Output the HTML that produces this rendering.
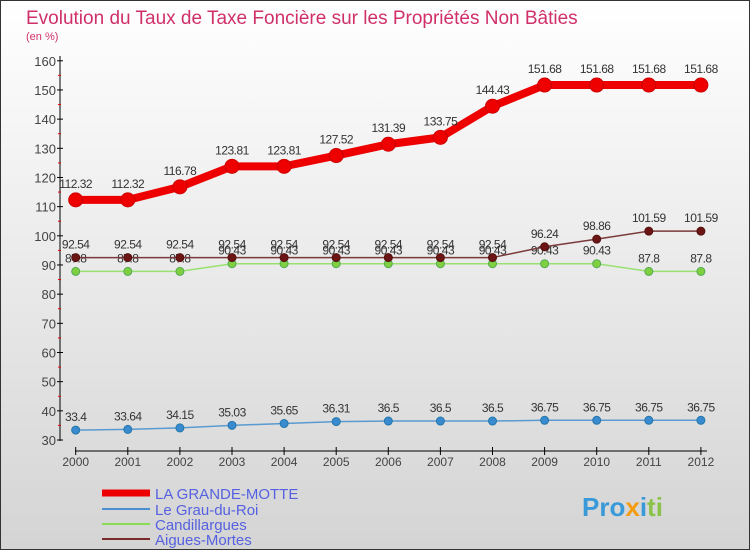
<!DOCTYPE html>
<html><head><meta charset="utf-8"><style>
body{margin:0}
#c{width:750px;height:550px;position:relative;font-family:"Liberation Sans",sans-serif;overflow:hidden}
text{font-family:"Liberation Sans",sans-serif}
</style></head><body>
<div id="c">
<svg id="s" width="750" height="550" xmlns="http://www.w3.org/2000/svg">
<defs><linearGradient id="bg" x1="0" y1="0" x2="0" y2="1"><stop offset="0" stop-color="#ffffff"/><stop offset="1" stop-color="#d4d4d4"/></linearGradient></defs>
<rect x="0.5" y="0.5" width="749" height="549" fill="url(#bg)" stroke="#333"/>
<text x="26" y="24" font-size="19" fill="#d0306a">Evolution du Taux de Taxe Foncière sur les Propriétés Non Bâties</text>
<text x="26" y="40" font-size="11" fill="#d0306a">(en %)</text>
<g id="axes"></g><g id="series"></g>
<g>
<line x1="102" y1="493" x2="150" y2="493" stroke="#e00" stroke-width="7"/><text x="155" y="499" font-size="15" fill="#5561e0">LA GRANDE-MOTTE</text>
<line x1="102" y1="509" x2="150" y2="509" stroke="#4a90d0" stroke-width="2"/><text x="155" y="515" font-size="15" fill="#5561e0">Le Grau-du-Roi</text>
<line x1="102" y1="524" x2="150" y2="524" stroke="#88dd55" stroke-width="2"/><text x="155" y="530" font-size="15" fill="#5561e0">Candillargues</text>
<line x1="102" y1="539" x2="150" y2="539" stroke="#7a2a2a" stroke-width="2"/><text x="155" y="545" font-size="15" fill="#5561e0">Aigues-Mortes</text>
</g>
<text x="582" y="516" font-size="26" font-weight="bold" fill="#3a9ad9">Pro<tspan fill="#f39c12">x</tspan>i<tspan fill="#8bc34a">ti</tspan></text>
</svg></div>
<script>
const years=[2000,2001,2002,2003,2004,2005,2006,2007,2008,2009,2010,2011,2012];
const grandeMotte=[112.32,112.32,116.78,123.81,123.81,127.52,131.39,133.75,144.43,151.68,151.68,151.68,151.68];
const grauDuRoi=[33.4,33.64,34.15,35.03,35.65,36.31,36.5,36.5,36.5,36.75,36.75,36.75,36.75];
const candillargues=[87.8,87.8,87.8,90.43,90.43,90.43,90.43,90.43,90.43,90.43,90.43,87.8,87.8];
const aiguesMortes=[92.54,92.54,92.54,92.54,92.54,92.54,92.54,92.54,92.54,96.24,98.86,101.59,101.59];
const yTicks=[30,40,50,60,70,80,90,100,110,120,130,140,150,160];
const NS="http://www.w3.org/2000/svg";
const xS=i=>75.7+i*52.1;
const yS=v=>440-(v-30)*2.917;
function mk(t,a,p){const e=document.createElementNS(NS,t);for(const k in a)e.setAttribute(k,a[k]);p.appendChild(e);return e;}
const ax=document.getElementById('axes');
mk('line',{x1:60,y1:56,x2:60,y2:441,stroke:'#000'},ax);
mk('line',{x1:75,y1:451,x2:707,y2:451,stroke:'#000'},ax);
yTicks.forEach(v=>{
 const y=yS(v);
 const l=mk('line',{x1:57,y1:y,x2:63,y2:y,stroke:'#000'},ax);
 
 
 if(v<160) mk('line',{x1:58,y1:yS(v+5),x2:61,y2:yS(v+5),stroke:'#e00'},ax);
 const t=mk('text',{x:56,y:y+5,'text-anchor':'end','font-size':13,fill:'#444'},ax);
 t.textContent=v;
 
 
});
years.forEach((yr,i)=>{
 const x=xS(i);
 mk('line',{x1:x,y1:447,x2:x,y2:455,stroke:'#000'},ax);
 const t=mk('text',{x:x,y:466,'text-anchor':'middle','font-size':12,fill:'#444'},ax);
 t.textContent=yr;
 
 
});
const sg=document.getElementById('series');
function draw(data,name,color,lw,r,dotFill,dotStroke){
 const g=mk('g',{},sg);
 
 
 mk('polyline',{points:data.map((v,i)=>xS(i)+','+yS(v)).join(' '),fill:'none',stroke:color,'stroke-width':lw,'stroke-linejoin':'round'},g);
 data.forEach((v,i)=>{
  const c=mk('circle',{cx:xS(i),cy:yS(v),r:r,fill:dotFill,stroke:dotStroke},g);
  
  
  const t=mk('text',{x:xS(i),y:yS(v)-9-(r>5?3:0),'text-anchor':'middle','font-size':12,fill:'#333','letter-spacing':'-0.5'},g);
  t.textContent=v;
 });
}
draw(candillargues,'candillargues-line','#99e070',1.5,4,'#7ed040','#5a5');
draw(aiguesMortes,'aigues-mortes-line','#7a3a3a',1.5,4,'#6b1515','#511');
draw(grauDuRoi,'grau-du-roi-line','#5a9ad0',1.5,4,'#3a8ad0','#27a');
draw(grandeMotte,'grande-motte-line','#e00',8,7,'#e00','#c00');
</script>
</body></html>
